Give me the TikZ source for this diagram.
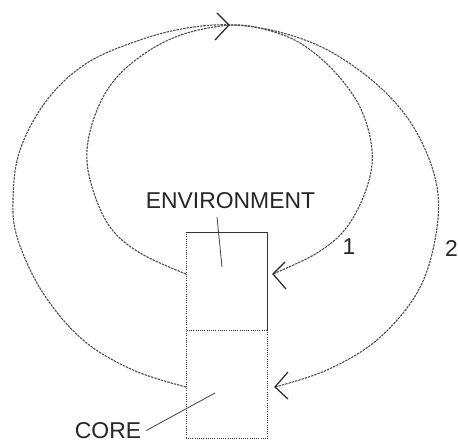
\documentclass[tikz,border=0pt]{standalone}
\usepackage{fontspec}
\setmainfont{Liberation Sans}
\begin{document}
\begin{tikzpicture}[x=1pt,y=-1pt,
  loopline/.style={draw=black!70,line width=1.1pt,dash pattern=on 2.4pt off 1pt},
  barb/.style={draw=black!85,line width=1.2pt},
  leader/.style={draw=black!75,line width=0.8pt},
  solidedge/.style={draw=black!80,line width=0.9pt},
  dotedge/.style={draw=black!80,line width=1pt,dash pattern=on 1pt off 1.2pt},
  lbl/.style={font=\fontsize{22.9}{26}\selectfont,text=black!85,inner sep=0pt}]
\useasboundingbox (0,0) rectangle (458,443);
% box parts
\coordinate (envNW) at (186,232);
\coordinate (envNE) at (267,232);
\coordinate (midW) at (186,331);
\coordinate (midE) at (267,331);
\coordinate (coreSW) at (186,439);
\coordinate (coreSE) at (267,439);
\draw[solidedge] (envNW) -- (envNE) -- (midE);
\draw[dotedge] (envNW) -- (coreSW) -- (coreSE) -- (midE) -- (midW);
% texts
\node[lbl] (envtxt) at (230.5,201) {ENVIRONMENT};
\node[lbl] (coretxt) at (108,430.5) {CORE};
\node[lbl] (one) at (349,247) {1};
\node[lbl] (two) at (451.5,249) {2};
\coordinate (envPt) at (222,267);
\coordinate (corePt) at (215,393);
\draw[leader] (217,217) -- (envPt);
\draw[leader] (coretxt.east) ++(5,0) -- (corePt);
% loop 1
\coordinate (l1s) at (186,274);
\coordinate (l1e) at (273,274);
\draw[loopline] plot[smooth,tension=0.6] coordinates {(l1s) (140,253) (110,227) (92,187) (87,150) (97,110) (117,77) (150,50) (187,33) (233,25) (267,30) (300,43) (333,70) (360,107) (372,150) (367,187) (347,227) (317,253) (l1e)};
% loop 2
\coordinate (l2s) at (186,387);
\coordinate (l2e) at (275,387);
\draw[loopline] plot[smooth,tension=0.6] coordinates {(l2s) (133,370) (83,340) (43,293) (18,240) (13,200) (20,150) (47,100) (87,63) (140,40) (187,28) (233,25) (283,33) (333,53) (383,90) (417,133) (437,187) (435,240) (417,293) (377,340) (327,370) (l2e)};
% arrowheads
\coordinate (topTip) at (229,25);
\draw[barb] (217,13) -- (topTip) -- (215,40);
\draw[barb] (285,262) -- (l1e) -- (286,289);
\draw[barb] (288,372) -- (l2e) -- (288,399);
\end{tikzpicture}
\end{document}
